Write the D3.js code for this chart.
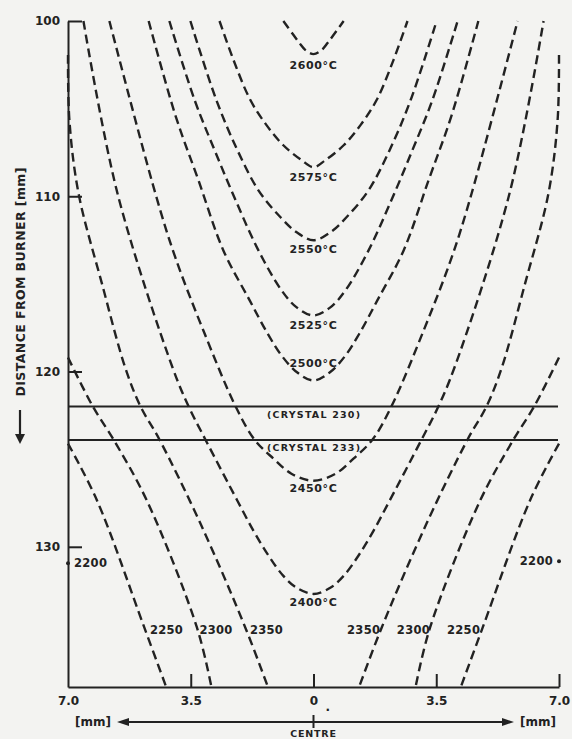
<!DOCTYPE html>
<html><head><meta charset="utf-8">
<script src="https://cdn.jsdelivr.net/npm/d3@7"></script>
<style>
html,body{margin:0;padding:0;background:#f3f3f1;}
svg{display:block;}
text{font-family:"DejaVu Sans",sans-serif;font-weight:bold;fill:#222;}
</style></head>
<body>
<svg id="c" width="572" height="739"></svg>
<script>
// ---- data (distance from burner [mm], half-width from centre [mm]) ----
const d2600 = [100.0, 100.8, 101.26, 101.66, 101.89];
const w2600 = [0.86, 0.57, 0.40, 0.23, 0];
const d2575 = [100.0, 102.23, 104.51, 105.94, 107.09, 107.94, 108.34];
const w2575 = [2.68, 2.28, 1.80, 1.34, 0.86, 0.34, 0];
const d2550 = [100.0, 104.51, 107.37, 109.66, 111.2, 112.06, 112.51];
const w2550 = [3.51, 2.77, 2.17, 1.57, 0.94, 0.48, 0];
const d2525 = [100.0, 104.51, 107.37, 110.23, 113.09, 115.37, 116.34, 116.8];
const w2525 = [4.11, 3.39, 2.82, 2.22, 1.57, 0.91, 0.48, 0];
const d2500 = [100.0, 105.37, 109.09, 113.09, 115.94, 117.83, 119.09, 120.06, 120.51];
const w2500 = [4.70, 3.94, 3.28, 2.57, 1.82, 1.31, 0.91, 0.46, 0];
const d2450 = [100.0, 109.83, 113.49, 117.66, 122.0, 123.89, 124.97, 125.83, 126.23];
const w2450 = [5.82, 4.51, 3.94, 3.14, 2.22, 1.68, 1.14, 0.63, 0];
const d2400 = [100.0, 109.83, 119.77, 122.0, 123.89, 127.37, 129.09, 130.51, 131.66, 132.34, 132.69];
const w2400 = [6.56, 5.59, 4.02, 3.56, 3.08, 2.17, 1.71, 1.28, 0.86, 0.48, 0];
const d2350 = [101.94, 105.66, 109.83, 115.0, 119.83, 122.0, 123.89, 128.69, 134.63, 138.0];
const w2350 = [7.0, 6.96, 6.70, 6.03, 5.36, 4.93, 4.39, 3.22, 1.94, 1.30];
const d2300 = [119.2, 122.0, 123.89, 127.37, 134.63, 138.0];
const w2300 = [7.0, 6.29, 5.70, 4.75, 3.32, 2.91];
const d2250 = [124.11, 127.37, 134.63, 138.0];
const w2250 = [7.0, 6.17, 4.82, 4.20];

const closedIsotherms = [[d2600,w2600],[d2575,w2575],[d2550,w2550],[d2525,w2525],[d2500,w2500],[d2450,w2450],[d2400,w2400]];
const openIsotherms = [[d2350,w2350],[d2300,w2300],[d2250,w2250]];

// labels of the U-shaped isotherms (centre, distance)
const uLabels = ["2600°C","2575°C","2550°C","2525°C","2500°C","2450°C","2400°C"];
const uLabelDist = [102.51, 108.9, 113.0, 117.35, 119.52, 126.66, 133.16];
// labels of the lower isotherms (x mm, distance)
const lowLabels = ["2250","2300","2350","2350","2300","2250"];
const lowLabelX = [-4.19, -2.78, -1.34, 1.43, 2.85, 4.28];
const lowLabelDist = 134.76;
const edgeLabelDist = [130.94, 130.82];

const crystalDist = [122.0, 123.9];
const crystalLabels = ["(CRYSTAL 230)","(CRYSTAL 233)"];

const xTickVals = [-7, -3.5, 0, 3.5, 7];
const xTickLabels = ["7.0","3.5","0","3.5","7.0"];
const yTickVals = [100, 110, 120, 130];

// ---- drawing ----
const svg = d3.select("#c");
svg.append("rect").attr("width",572).attr("height",739).attr("fill","#f3f3f1");

const x = d3.scaleLinear().domain([-7,7]).range([68,559]);
const y = d3.scaleLinear().domain([100,138]).range([21,687]);
const ink = "#222";

// crystal lines
svg.selectAll("line.crys").data(crystalDist).join("line")
  .attr("x1",x(-7)).attr("x2",x(7)-1)
  .attr("y1",d=>y(d)).attr("y2",d=>y(d))
  .attr("stroke",ink).attr("stroke-width",2);
svg.selectAll("text.crys").data(crystalLabels).join("text")
  .attr("x",x(0)).attr("y",(d,i)=>y(crystalDist[i])+11)
  .attr("text-anchor","middle").attr("font-size",9.5)
  .attr("textLength",93).attr("lengthAdjust","spacing")
  .text(d=>d);

const line = d3.line().x(p=>x(p[0])).y(p=>y(p[1])).curve(d3.curveCatmullRom.alpha(0.5));

closedIsotherms.forEach(([ds,ws])=>{
  const pts = [];
  ds.forEach((d,i)=>pts.push([-ws[i], d]));
  for(let i=ds.length-2;i>=0;i--) pts.push([ws[i], ds[i]]);
  svg.append("path").attr("d",line(pts)).attr("fill","none")
    .attr("stroke",ink).attr("stroke-width",2.4).attr("stroke-dasharray","9,5");
});
openIsotherms.forEach(([ds,ws])=>{
  [-1,1].forEach(s=>{
    const pts = ds.map((d,i)=>[s*ws[i], d]);
    svg.append("path").attr("d",line(pts)).attr("fill","none")
      .attr("stroke",ink).attr("stroke-width",2.4).attr("stroke-dasharray","9,5");
  });
});

// isotherm labels
svg.selectAll("text.ul").data(uLabels).join("text")
  .attr("x",x(0)).attr("y",(d,i)=>y(uLabelDist[i])).attr("dy","0.36em")
  .attr("text-anchor","middle").attr("font-size",11).attr("letter-spacing",0.6)
  .text(d=>d);
svg.selectAll("text.ll").data(lowLabels).join("text")
  .attr("x",(d,i)=>x(lowLabelX[i])).attr("y",y(lowLabelDist)).attr("dy","0.36em")
  .attr("text-anchor","middle").attr("font-size",11.5).attr("letter-spacing",0.3)
  .text(d=>d);
svg.append("circle").attr("cx",x(-7)).attr("cy",y(edgeLabelDist[0])).attr("r",2).attr("fill",ink);
svg.append("text").attr("x",x(-7)+6).attr("y",y(edgeLabelDist[0])).attr("dy","0.36em")
  .attr("font-size",11.5).attr("letter-spacing",0.3).text("2200");
svg.append("circle").attr("cx",x(7)).attr("cy",y(edgeLabelDist[1])).attr("r",2).attr("fill",ink);
svg.append("text").attr("x",x(7)-6).attr("y",y(edgeLabelDist[1])).attr("dy","0.36em")
  .attr("text-anchor","end").attr("font-size",11.5).attr("letter-spacing",0.3).text("2200");

// axes
const yAxis = d3.axisLeft(y).tickValues(yTickVals).tickSize(-14).tickSizeOuter(0).tickPadding(8);
const gy = svg.append("g").attr("transform",`translate(${x(-7)},0)`).call(yAxis);
const xAxis = d3.axisBottom(x).tickValues(xTickVals).tickSize(-13).tickSizeOuter(0).tickPadding(9)
  .tickFormat((d,i)=>xTickLabels[i]);
const gx = svg.append("g").attr("transform",`translate(0,${y(138)})`).call(xAxis);
[gx,gy].forEach(g=>{
  g.select(".domain").attr("stroke",ink).attr("stroke-width",2);
  g.selectAll(".tick line").attr("stroke",ink).attr("stroke-width",2);
  g.selectAll(".tick text").attr("font-size",12).attr("font-family","DejaVu Sans")
    .attr("font-weight","bold").attr("fill","#222");
});
gx.select(".tick:nth-child(2) line").attr("stroke","none");
svg.append("text").attr("x",x(0)+12).attr("y",711).attr("font-size",12).text(".");

// y title
svg.append("text").attr("transform","translate(25,282) rotate(-90)")
  .attr("text-anchor","middle").attr("font-size",12.5)
  .attr("textLength",229).attr("lengthAdjust","spacing")
  .text("DISTANCE FROM BURNER [mm]");
svg.append("line").attr("x1",20).attr("x2",20).attr("y1",410).attr("y2",436)
  .attr("stroke",ink).attr("stroke-width",2.2);
svg.append("path").attr("d","M15,434 L25,434 L20,444 Z").attr("fill",ink);

// bottom arrow
svg.append("line").attr("x1",126).attr("x2",506).attr("y1",722).attr("y2",722)
  .attr("stroke",ink).attr("stroke-width",2);
svg.append("path").attr("d","M117,722 L129,718 L129,726 Z").attr("fill",ink);
svg.append("path").attr("d","M514,722 L502,718 L502,726 Z").attr("fill",ink);
svg.append("line").attr("x1",x(0)).attr("x2",x(0)).attr("y1",715).attr("y2",728)
  .attr("stroke",ink).attr("stroke-width",2);
svg.append("text").attr("x",93).attr("y",722).attr("dy","0.36em").attr("text-anchor","middle")
  .attr("font-size",12).text("[mm]");
svg.append("text").attr("x",538).attr("y",722).attr("dy","0.36em").attr("text-anchor","middle")
  .attr("font-size",12).text("[mm]");
svg.append("text").attr("x",x(0)).attr("y",737).attr("text-anchor","middle")
  .attr("font-size",9.5).attr("letter-spacing",0.8).text("CENTRE");
</script>
</body></html>
